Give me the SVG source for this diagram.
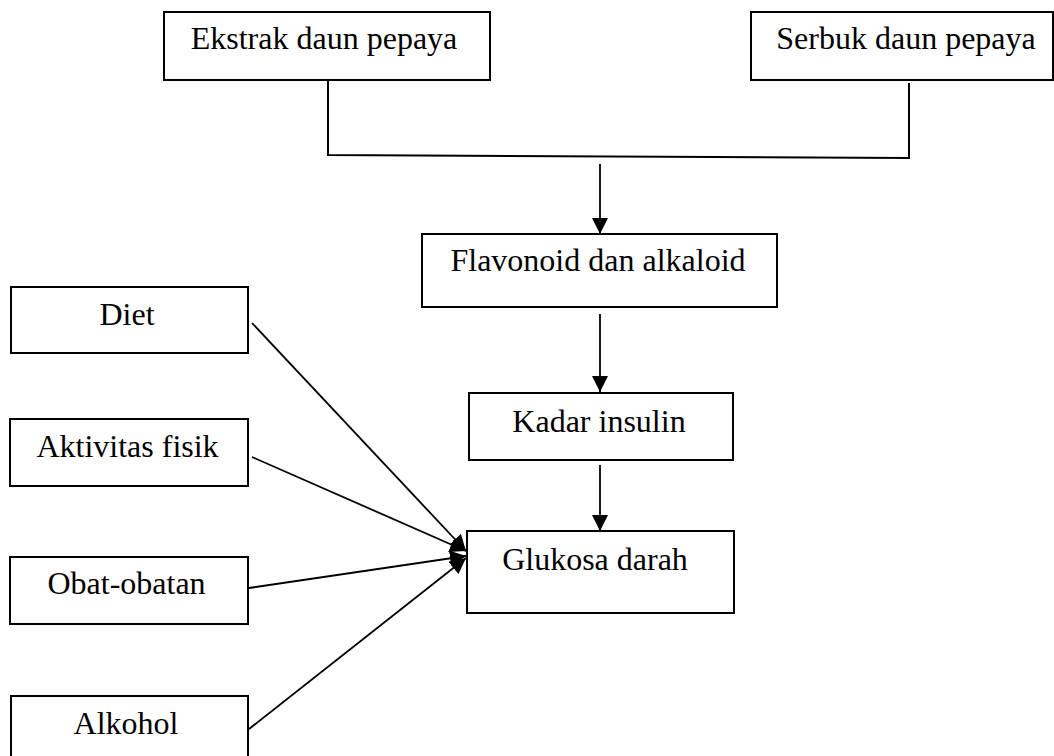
<svg xmlns="http://www.w3.org/2000/svg" width="1054" height="756" viewBox="0 0 1054 756">
<style>
.box{fill:#fff;stroke:#000;stroke-width:2}
.t{font-family:"Liberation Serif","Times New Roman",serif;font-size:32px;fill:#000;text-anchor:middle}
.c{fill:none;stroke:#000;stroke-width:2}
.a{fill:none;stroke:#000;stroke-width:1.8;marker-end:url(#ah)}
</style>
<defs>
<marker id="ah" markerUnits="userSpaceOnUse" markerWidth="16" markerHeight="16" viewBox="0 0 16 16" refX="16" refY="8" orient="auto">
<path d="M0,0 L16,8 L0,16 Z" fill="#000"/>
</marker>
</defs>
<rect width="1054" height="756" fill="#fff"/>
<g id="ekstrak"><rect class="box" x="164" y="12" width="326" height="68"/><text class="t" x="324" y="49">Ekstrak daun pepaya</text></g>
<g id="serbuk"><rect class="box" x="751" y="12" width="302" height="68"/><text class="t" x="906" y="49">Serbuk daun pepaya</text></g>
<g id="flavonoid"><rect class="box" x="422" y="234" width="355" height="73"/><text class="t" x="598" y="271">Flavonoid dan alkaloid</text></g>
<g id="kadar"><rect class="box" x="469" y="393" width="264" height="67"/><text class="t" x="599" y="432">Kadar insulin</text></g>
<g id="glukosa"><rect class="box" x="467" y="531" width="267" height="82"/><text class="t" x="595" y="570">Glukosa darah</text></g>
<g id="diet"><rect class="box" x="11" y="287" width="237" height="66"/><text class="t" x="127" y="325">Diet</text></g>
<g id="aktivitas"><rect class="box" x="10" y="419" width="238" height="67"/><text class="t" x="127.5" y="457">Aktivitas fisik</text></g>
<g id="obat"><rect class="box" x="10" y="557" width="238" height="67"/><text class="t" x="126.5" y="594">Obat-obatan</text></g>
<g id="alkohol"><rect class="box" x="11" y="696" width="237" height="70"/><text class="t" x="126" y="734">Alkohol</text></g>
<g id="connectors">
<polyline class="c" points="328,80 328,155 909,158 909,83"/>
<line class="a" x1="600" y1="164" x2="600" y2="234"/>
<line class="a" x1="600" y1="314" x2="600" y2="392"/>
<line class="a" x1="600" y1="465" x2="600" y2="531"/>
<line class="a" x1="252" y1="323" x2="466" y2="551"/>
<line class="a" x1="252" y1="457" x2="466" y2="551"/>
<line class="a" x1="249" y1="588" x2="466" y2="556"/>
<line class="a" x1="249" y1="729" x2="466" y2="558"/>
</g>
</svg>
